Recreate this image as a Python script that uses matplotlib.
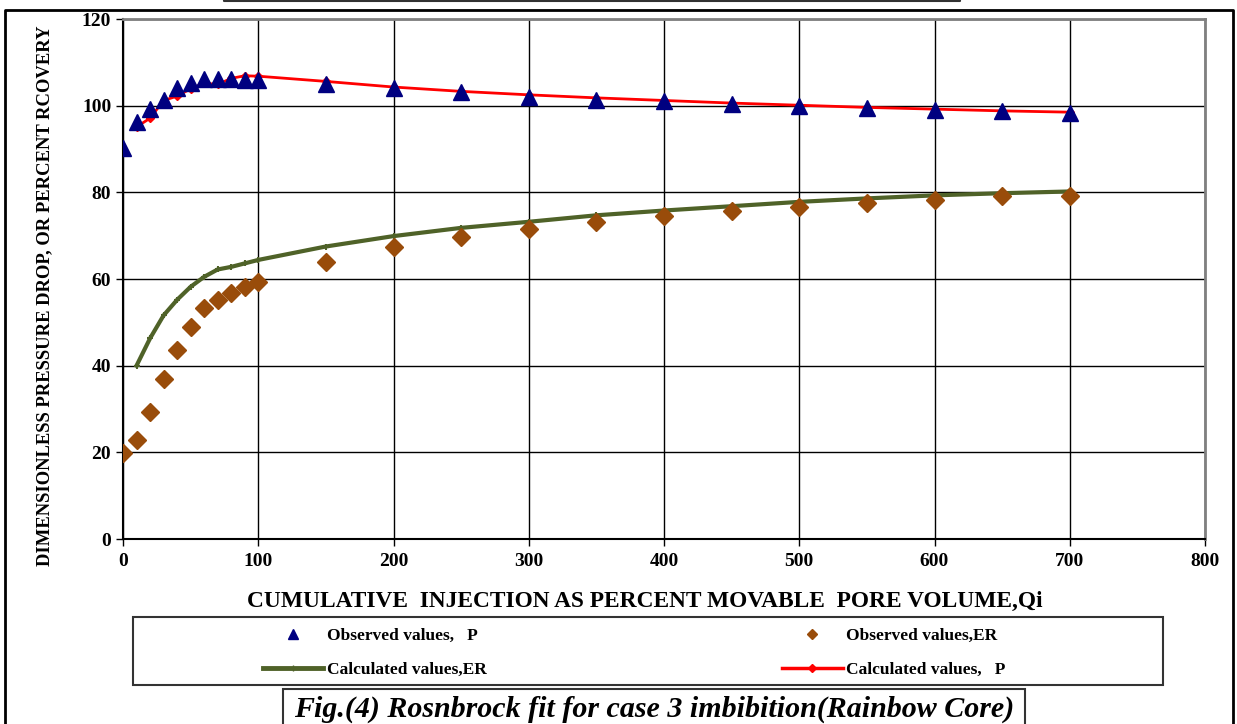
import numpy as np
import matplotlib.pyplot as plt
from matplotlib.lines import Line2D
from matplotlib.patches import Rectangle

plt.rcParams['font.family'] = ['Liberation Serif', 'DejaVu Serif']

# observed dimensionless pressure drop (triangles)
qi_obs = [0, 10, 20, 30, 40, 50, 60, 70, 80, 90, 100, 150, 200, 250, 300,
          350, 400, 450, 500, 550, 600, 650, 700]
p_obs = [90.2, 96.2, 99.2, 101.3, 104.0, 105.2, 106.1, 106.1, 106.1, 106.0, 105.9,
         105.0, 104.0, 103.2, 102.1, 101.4, 101.0, 100.4, 99.9, 99.5, 99.1, 98.7, 98.3]
# observed recovery (diamonds)
er_obs = [19.8, 22.9, 29.4, 36.9, 43.6, 49.0, 53.2, 55.2, 56.7, 58.1, 59.3,
          64.0, 67.3, 69.6, 71.5, 73.2, 74.6, 75.6, 76.7, 77.6, 78.3, 79.1, 79.2]

# calculated curves start at Qi = 10
qi_calc = qi_obs[1:]
p_calc = [95.1, 97.1, 101.2, 102.2, 103.9, 105.2, 104.9, 106.3, 106.9, 106.8,
          105.6, 104.3, 103.3, 102.5, 101.8, 101.2, 100.6, 100.1, 99.6, 99.2, 98.8, 98.5]
er_calc = [40.0, 46.3, 51.6, 55.2, 58.2, 60.5, 62.2, 62.8, 63.6, 64.4,
           67.5, 69.9, 71.8, 73.2, 74.7, 75.8, 76.8, 77.8, 78.6, 79.3, 79.8, 80.2]

W, H = 1237, 724
fig = plt.figure(figsize=(W / 100, H / 100), dpi=100)
ax = fig.add_axes([123 / W, 1 - 539 / H, (1205 - 123) / W, (539 - 19) / H])

ax.plot(qi_calc, er_calc, color='#4F6228', lw=3, marker='+', ms=5, mew=1.5, zorder=3)
ax.plot(qi_calc, p_calc, color='#FF0000', lw=2, marker='D', ms=4, zorder=3)
ax.plot(qi_obs, p_obs, ls='none', marker='^', color='#000080', ms=11, zorder=4)
ax.plot(qi_obs, er_obs, ls='none', marker='D', color='#994C0A', ms=9, zorder=4)

ax.set_xlim(0, 800)
ax.set_ylim(0, 120)
ax.set_xticks(np.arange(0, 801, 100))
ax.set_yticks(np.arange(0, 121, 20))
ax.grid(True, color='black', lw=1)
ax.set_axisbelow(True)
ax.tick_params(direction='out', length=5, width=1, colors='black', labelsize=14)
ax.tick_params(axis='x', pad=5)
for lbl in ax.get_xticklabels() + ax.get_yticklabels():
    lbl.set_fontweight('bold')
for s in ['top', 'right']:
    ax.spines[s].set_color('#808080')
    ax.spines[s].set_linewidth(2)
for s in ['left', 'bottom']:
    ax.spines[s].set_color('black')
    ax.spines[s].set_linewidth(1.5)

fig.text(645 / W, 1 - 601 / H, 'CUMULATIVE  INJECTION AS PERCENT MOVABLE  PORE VOLUME,Qi',
         ha='center', va='center', fontsize=16.8, fontweight='bold')
fig.text(45 / W, 1 - 296 / H, 'DIMENSIONLESS PRESSURE DROP, OR PERCENT RCOVERY',
         ha='center', va='center', rotation=90, fontsize=13.4, fontweight='bold')

# legend box
fig.patches.append(Rectangle((133 / W, 1 - 685 / H), (1163 - 133) / W, (685 - 617) / H,
                             transform=fig.transFigure, fill=False, ec='#333333', lw=1.5))
handles = [
    Line2D([], [], ls='none', marker='^', color='#000080', ms=7),
    Line2D([], [], color='#4F6228', lw=3.5, marker='+', ms=4),
    Line2D([], [], ls='none', marker='D', color='#994C0A', ms=5),
    Line2D([], [], color='#FF0000', lw=2.5, marker='D', ms=4),
]
labels = ['Observed values,   P', 'Calculated values,ER',
          'Observed values,ER', 'Calculated values,   P']
fig.legend(handles, labels, ncol=2, loc='center left',
           bbox_to_anchor=(247 / W, 1 - 653 / H), frameon=False,
           prop={'weight': 'bold', 'size': 12.5}, handlelength=3.5,
           handletextpad=0.2, columnspacing=17.0, labelspacing=1.0)

# caption box
fig.patches.append(Rectangle((283 / W, -0.01), (1025 - 283) / W, 0.01 + (724 - 689) / H,
                             transform=fig.transFigure, fill=False, ec='#333333', lw=1.5))
fig.text(654 / W, 1 - 709 / H, 'Fig.(4) Rosnbrock fit for case 3 imbibition(Rainbow Core)',
         ha='center', va='center', fontsize=21.6, fontweight='bold', style='italic')

# outer frame and cut-off title box
fig.add_artist(Line2D([5 / W, 5 / W, 1233 / W, 1233 / W], [0, 1 - 10 / H, 1 - 10 / H, 0],
                      transform=fig.transFigure, color='black', lw=2))
fig.add_artist(Line2D([224 / W, 224 / W, 960 / W, 960 / W], [1, 1 - 1 / H, 1 - 1 / H, 1],
                      transform=fig.transFigure, color='#333333', lw=1.5))

fig.savefig('out.png', dpi=100)
